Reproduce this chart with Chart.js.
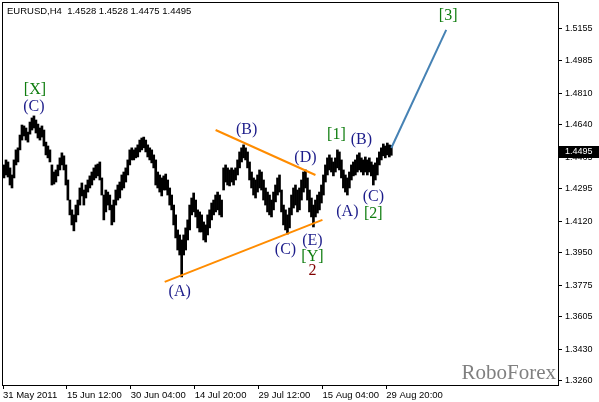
<!DOCTYPE html>
<html>
<head>
<meta charset="utf-8">
<script src="https://cdn.jsdelivr.net/npm/chart.js@4.4.0/dist/chart.umd.min.js"></script>
<style>
  html, body { margin: 0; padding: 0; background: #fff; }
  #wrap { width: 599px; height: 402px; }
</style>
</head>
<body>
<div id="wrap"><canvas id="chart" width="599" height="402"></canvas></div>
<script>
// EURUSD H4 bars, 31 May - 30 Aug 2011 (one entry per bar)
const barHigh = [
  1.4423,1.4450,1.4439,1.4407,1.4369,1.4450,1.4504,1.4515,1.4584,1.4638,
  1.4633,1.4622,1.4600,1.4654,1.4676,1.4687,1.4665,1.4643,1.4622,1.4633,
  1.4611,1.4546,1.4525,1.4504,1.4423,1.4385,1.4396,1.4423,1.4461,1.4488,
  1.4472,1.4423,1.4342,1.4234,1.4181,1.4154,1.4207,1.4234,1.4299,1.4326,
  1.4288,1.4315,1.4342,1.4364,1.4385,1.4407,1.4423,1.4428,1.4439,1.4353,
  1.4261,1.4288,1.4277,1.4261,1.4207,1.4234,1.4288,1.4315,1.4331,1.4369,
  1.4385,1.4407,1.4450,1.4504,1.4515,1.4504,1.4515,1.4531,1.4557,1.4568,
  1.4573,1.4557,1.4531,1.4515,1.4504,1.4477,1.4450,1.4385,1.4369,1.4353,
  1.4364,1.4374,1.4342,1.4299,1.4261,1.4207,1.4154,1.4073,1.4046,1.4019,
  1.4046,1.4084,1.4127,1.4207,1.4245,1.4272,1.4234,1.4181,1.4170,1.4154,
  1.4116,1.4100,1.4154,1.4181,1.4218,1.4234,1.4261,1.4277,1.4261,1.4234,
  1.4407,1.4423,1.4407,1.4396,1.4407,1.4396,1.4407,1.4450,1.4493,1.4515,
  1.4531,1.4515,1.4493,1.4439,1.4385,1.4353,1.4342,1.4369,1.4396,1.4385,
  1.4342,1.4299,1.4277,1.4261,1.4234,1.4277,1.4315,1.4353,1.4369,1.4288,
  1.4207,1.4181,1.4154,1.4191,1.4261,1.4299,1.4315,1.4288,1.4299,1.4342,
  1.4385,1.4396,1.4353,1.4288,1.4245,1.4207,1.4234,1.4261,1.4277,1.4315,
  1.4369,1.4423,1.4461,1.4477,1.4461,1.4439,1.4461,1.4504,1.4493,1.4450,
  1.4396,1.4369,1.4353,1.4385,1.4423,1.4439,1.4450,1.4477,1.4488,1.4461,
  1.4450,1.4466,1.4450,1.4461,1.4439,1.4423,1.4434,1.4461,1.4493,1.4515,
  1.4536,1.4525,1.4541,1.4531,1.4528
];
const barLow = [
  1.4353,1.4369,1.4358,1.4315,1.4299,1.4353,1.4423,1.4439,1.4504,1.4557,
  1.4579,1.4557,1.4546,1.4589,1.4611,1.4622,1.4595,1.4568,1.4557,1.4573,
  1.4525,1.4477,1.4461,1.4439,1.4315,1.4320,1.4331,1.4364,1.4396,1.4423,
  1.4396,1.4315,1.4234,1.4154,1.4100,1.4068,1.4116,1.4154,1.4207,1.4256,
  1.4207,1.4245,1.4277,1.4299,1.4315,1.4342,1.4353,1.4364,1.4342,1.4261,
  1.4127,1.4170,1.4207,1.4181,1.4100,1.4116,1.4207,1.4234,1.4245,1.4288,
  1.4299,1.4331,1.4369,1.4423,1.4450,1.4450,1.4461,1.4466,1.4493,1.4504,
  1.4515,1.4493,1.4466,1.4450,1.4434,1.4407,1.4315,1.4299,1.4277,1.4256,
  1.4288,1.4288,1.4261,1.4207,1.4181,1.4100,1.4030,1.3965,1.3938,1.3820,
  1.3938,1.3965,1.4019,1.4073,1.4154,1.4170,1.4143,1.4084,1.4062,1.4062,
  1.4019,1.4008,1.4046,1.4084,1.4127,1.4154,1.4170,1.4181,1.4154,1.4143,
  1.4288,1.4331,1.4315,1.4310,1.4331,1.4315,1.4342,1.4369,1.4407,1.4439,
  1.4461,1.4450,1.4407,1.4342,1.4299,1.4261,1.4245,1.4277,1.4299,1.4288,
  1.4234,1.4207,1.4170,1.4154,1.4143,1.4181,1.4224,1.4261,1.4277,1.4170,
  1.4100,1.4073,1.4051,1.4084,1.4154,1.4191,1.4207,1.4170,1.4181,1.4234,
  1.4277,1.4299,1.4234,1.4170,1.4143,1.4089,1.4143,1.4164,1.4181,1.4218,
  1.4261,1.4331,1.4369,1.4396,1.4385,1.4364,1.4385,1.4407,1.4396,1.4353,
  1.4299,1.4277,1.4261,1.4299,1.4342,1.4364,1.4369,1.4385,1.4396,1.4385,
  1.4369,1.4385,1.4369,1.4385,1.4364,1.4315,1.4342,1.4369,1.4423,1.4450,
  1.4472,1.4461,1.4477,1.4466,1.4475
];

// last bar, shown in the header line
const symbol = 'EURUSD,H4';
const lastOHLC = [1.4528, 1.4528, 1.4475, 1.4495];

// time axis: one slot per bar, plus empty space on the right
const totalSlots = 279;
const timeTicks = ['31 May 2011', '15 Jun 12:00', '30 Jun 04:00', '14 Jul 20:00', '29 Jul 12:00', '15 Aug 04:00', '29 Aug 20:00'];
const timeTickSlots = [0, 32, 64, 96, 128, 160, 192];

// price axis
const priceTicks = [1.3260, 1.3430, 1.3605, 1.3775, 1.3950, 1.4120, 1.4295, 1.4465, 1.4640, 1.4810, 1.4985, 1.5155];
const priceMin = 1.3238;
const priceMax = 1.5295;

// triangle lines and the forecast for wave [3] (slot, price)
const upperLine = [[106.5, 1.4611], [156.5, 1.4369]];
const lowerLine = [[81, 1.3793], [160, 1.4127]];
const forecastLine = [[194.5, 1.4514], [222, 1.5150]];

// wave marks
const waveText  = ['[X]', '(C)', '(B)', '(D)', '[1]', '(B)', '(C)', '(A)', '[2]', '(C)', '(E)', '[Y]', '2', '(A)', '[3]'];
const waveSlot  = [16, 15.5, 122, 151.5, 167, 179.5, 185.5, 172.5, 185.5, 141.5, 155, 155, 155, 88.5, 223];
const wavePrice = [1.4827, 1.4735, 1.4611, 1.4461, 1.4584, 1.4557, 1.4251, 1.4170, 1.4159, 1.3965, 1.4014, 1.3928, 1.3852, 1.3739, 1.5225];
const waveColor = ['#0f7d0f', '#1c1c8a', '#1c1c8a', '#1c1c8a', '#0f7d0f', '#1c1c8a', '#1c1c8a', '#1c1c8a', '#0f7d0f', '#1c1c8a', '#1c1c8a', '#0f7d0f', '#800000', '#1c1c8a', '#0f7d0f'];

const watermark = 'RoboForex';

let slotLabels = [];
for (let i = 0; i < totalSlots; i++) slotLabels.push('');
timeTickSlots.forEach((s, k) => { slotLabels[s] = timeTicks[k]; });

const toPoints = arr => arr.map(p => ({ x: p[0], y: p[1] }));

// text, frame and price box drawn on top of the chart
const overlayPlugin = {
  id: 'overlay',
  beforeDatasetsDraw(chart) {
    const { ctx, chartArea } = chart;
    ctx.save();
    ctx.font = '21px "Liberation Serif", serif';
    ctx.fillStyle = '#808080';
    ctx.textAlign = 'right';
    ctx.textBaseline = 'alphabetic';
    ctx.fillText(watermark, chartArea.right - 2, chartArea.bottom - 6);
    ctx.restore();
  },
  afterDatasetsDraw(chart) {
    const { ctx } = chart;
    const xs = chart.scales.xl, ys = chart.scales.y;
    ctx.save();
    ctx.font = '16px "Liberation Serif", serif';
    ctx.textAlign = 'center';
    ctx.textBaseline = 'middle';
    waveText.forEach((t, i) => {
      ctx.fillStyle = waveColor[i];
      ctx.fillText(t, xs.getPixelForValue(waveSlot[i]), ys.getPixelForValue(wavePrice[i]));
    });
    ctx.restore();
  },
  afterDraw(chart) {
    const { ctx, chartArea } = chart;
    const ys = chart.scales.y;
    ctx.save();
    // frame
    ctx.strokeStyle = '#000';
    ctx.lineWidth = 1;
    ctx.strokeRect(chartArea.left - 0.5, chartArea.top - 0.5,
      chartArea.right - chartArea.left + 1, chartArea.bottom - chartArea.top + 1);
    // header
    ctx.font = '9.5px "Liberation Sans", sans-serif';
    ctx.fillStyle = '#000';
    ctx.textAlign = 'left';
    ctx.textBaseline = 'middle';
    ctx.fillText(symbol + '  ' + lastOHLC.map(v => v.toFixed(4)).join(' '), 7, 11);
    // current price box
    const py = Math.round(ys.getPixelForValue(lastOHLC[3]));
    ctx.fillStyle = '#000';
    ctx.fillRect(chartArea.right + 1, py - 6, 40, 12);
    ctx.fillStyle = '#fff';
    ctx.font = '9px "Liberation Sans", sans-serif';
    ctx.fillText(lastOHLC[3].toFixed(4), chartArea.right + 7, py);
    ctx.restore();
  }
};

const ctx = document.getElementById('chart').getContext('2d');
const chart = new Chart(ctx, {
  type: 'bar',
  data: {
    labels: slotLabels,
    datasets: [
      {
        type: 'line',
        data: toPoints(upperLine),
        xAxisID: 'xl',
        borderColor: '#ff8c00',
        borderWidth: 2,
        pointRadius: 0,
        order: 0
      },
      {
        type: 'line',
        data: toPoints(lowerLine),
        xAxisID: 'xl',
        borderColor: '#ff8c00',
        borderWidth: 2,
        pointRadius: 0,
        order: 0
      },
      {
        type: 'line',
        data: toPoints(forecastLine),
        xAxisID: 'xl',
        borderColor: '#4682b4',
        borderWidth: 2,
        pointRadius: 0,
        order: 0
      },
      {
        type: 'bar',
        data: barHigh.map((h, i) => [barLow[i], h]),
        xAxisID: 'x',
        backgroundColor: '#000',
        borderWidth: 0,
        barThickness: 2,
        order: 1
      }
    ]
  },
  options: {
    responsive: false,
    animation: false,
    events: [],
    layout: { padding: { left: 3, top: 3, right: 0, bottom: 0 } },
    plugins: {
      legend: { display: false },
      tooltip: { enabled: false }
    },
    scales: {
      x: {
        type: 'category',
        offset: false,
        border: { display: false },
        grid: { offset: false, drawOnChartArea: false, drawTicks: true, tickLength: 4, color: '#000' },
        ticks: {
          autoSkip: false,
          maxRotation: 0,
          align: 'start',
          padding: 1,
          color: '#000',
          font: { family: 'Liberation Sans', size: 9.5 }
        },
        afterBuildTicks: scale => { scale.ticks = timeTickSlots.map(v => ({ value: v })); },
        afterFit: scale => { scale.height = 17; scale.paddingLeft = 0; scale.paddingRight = 0; }
      },
      xl: {
        type: 'linear',
        display: false,
        offset: false,
        min: 0,
        max: totalSlots - 1
      },
      y: {
        type: 'linear',
        position: 'right',
        min: priceMin,
        max: priceMax,
        border: { display: false },
        grid: { drawOnChartArea: false, drawTicks: true, tickLength: 4, color: '#000' },
        ticks: {
          padding: 3,
          color: '#000',
          font: { family: 'Liberation Sans', size: 9 },
          callback: v => Number(v).toFixed(4)
        },
        afterBuildTicks: scale => { scale.ticks = priceTicks.map(v => ({ value: v })); },
        afterFit: scale => { scale.width = 41; scale.paddingTop = 0; scale.paddingBottom = 0; }
      }
    }
  },
  plugins: [overlayPlugin]
});
</script>
</body>
</html>
